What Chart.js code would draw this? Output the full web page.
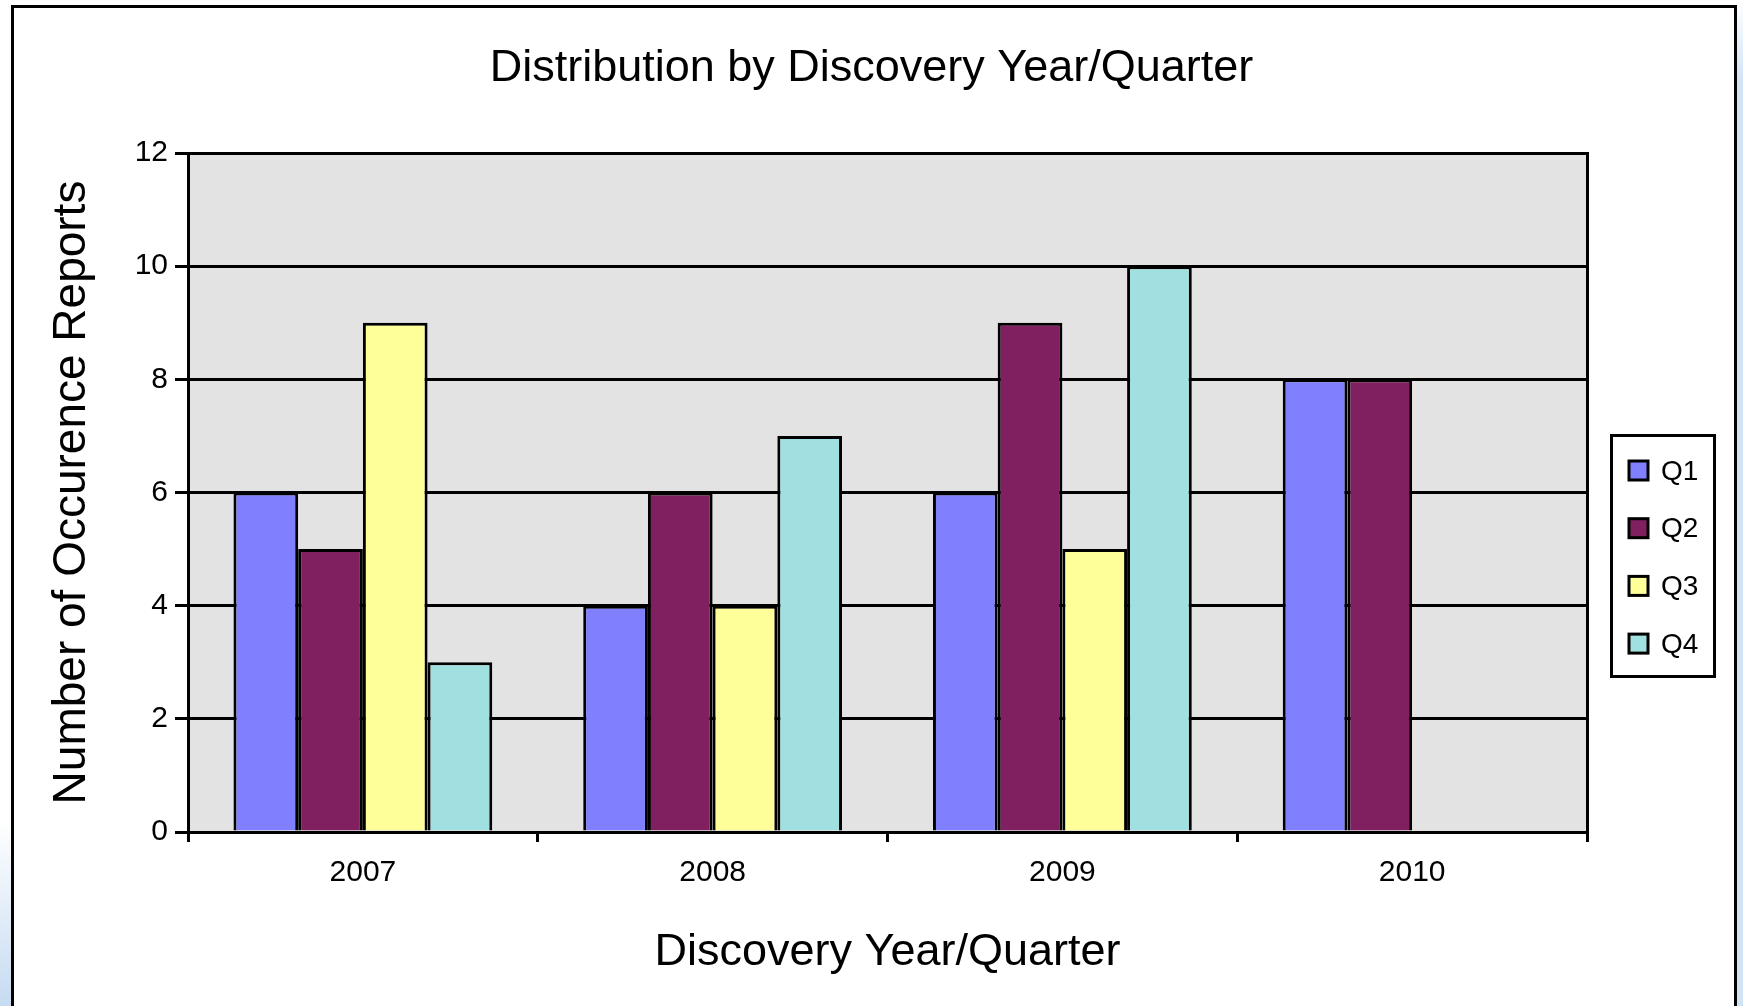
<!DOCTYPE html>
<html><head><meta charset="utf-8">
<script src="https://cdn.jsdelivr.net/npm/chart.js@4.4.1/dist/chart.umd.min.js"></script>
<style>html,body{margin:0;padding:0;background:#fff;overflow:hidden}canvas{display:block}</style>
</head><body>
<canvas id="c" width="1743" height="1006"></canvas>
<script>
const categories = ['2007', '2008', '2009', '2010'];
const q1 = [6, 4, 6, 8];
const q2 = [5, 6, 9, 8];
const q3 = [9, 4, 5, null];
const q4 = [3, 7, 10, null];
const seriesNames = ['Q1', 'Q2', 'Q3', 'Q4'];
const yTicks = [0, 2, 4, 6, 8, 10, 12];
const chartTitle = 'Distribution by Discovery Year/Quarter';
const xTitle = 'Discovery Year/Quarter';
const yTitle = 'Number of Occurence Reports';
const seriesColors = ['#8080FF', '#802060', '#FFFF99', '#A0E0E0'];

const FONT = '"Liberation Sans", Arial, sans-serif';

const framePlugin = {
  id: 'frame',
  beforeDraw(chart) {
    const ctx = chart.ctx, W = chart.width, H = chart.height, a = chart.chartArea;
    ctx.save();
    ctx.fillStyle = '#fff';
    ctx.fillRect(0, 0, W, H);
    let g = ctx.createLinearGradient(0, 0, 0, 80);
    g.addColorStop(0, '#ffffff'); g.addColorStop(1, '#d2e3f6');
    ctx.fillStyle = g; ctx.fillRect(1737, 0, W - 1737, H);
    g = ctx.createLinearGradient(0, 820, 0, H);
    g.addColorStop(0, '#ffffff'); g.addColorStop(1, '#c6dbf1');
    ctx.fillStyle = g; ctx.fillRect(0, 820, 11, H - 820);
    ctx.strokeStyle = '#000'; ctx.lineWidth = 3;
    ctx.beginPath();
    ctx.moveTo(12.5, H + 5); ctx.lineTo(12.5, 6.5); ctx.lineTo(1735.5, 6.5); ctx.lineTo(1735.5, H + 5);
    ctx.stroke();
    ctx.fillStyle = '#E3E3E3';
    ctx.fillRect(a.left, a.top, a.right - a.left, a.bottom - a.top);
    ctx.restore();
  },
  afterDraw(chart) {
    const ctx = chart.ctx;
    const bx = 1611.5, by = 435.5, bw = 103, bh = 241;
    ctx.save();
    ctx.fillStyle = '#fff';
    ctx.fillRect(bx, by, bw, bh);
    ctx.strokeStyle = '#000'; ctx.lineWidth = 3;
    ctx.strokeRect(bx, by, bw, bh);
    ctx.font = '28px ' + FONT;
    ctx.textBaseline = 'middle'; ctx.textAlign = 'left';
    chart.data.datasets.forEach((ds, i) => {
      const cy = 471 + i * 57.7;
      ctx.fillStyle = ds.backgroundColor;
      ctx.fillRect(1629, cy - 10, 19, 19);
      ctx.strokeRect(1629, cy - 10, 19, 19);
      ctx.fillStyle = '#000';
      ctx.fillText(ds.label, 1661, cy + 1);
    });
    ctx.restore();
  }
};

const seriesData = [q1, q2, q3, q4];
new Chart(document.getElementById('c'), {
  type: 'bar',
  data: {
    labels: categories,
    datasets: seriesNames.map((n, i) => ({
      label: n,
      data: seriesData[i],
      backgroundColor: seriesColors[i],
      borderColor: '#000',
      borderWidth: 3,
      borderSkipped: 'start',
      categoryPercentage: 0.74,
      barPercentage: 1.0
    }))
  },
  options: {
    responsive: false,
    animation: false,
    layout: { padding: 0 },
    plugins: {
      legend: { display: false },
      tooltip: { enabled: false },
      title: {
        display: true, text: chartTitle, color: '#000',
        font: { family: FONT, size: 45, weight: 'normal' },
        padding: { top: 42, bottom: 57 }
      }
    },
    scales: {
      x: {
        position: 'bottom', offset: true,
        afterFit: s => { s.height = 174; },
        grid: { display: true, drawOnChartArea: false, drawTicks: true, tickLength: 10, color: '#000', lineWidth: 3, offset: true },
        border: { display: true, color: '#000', width: 3, z: 1 },
        ticks: { color: '#000', font: { family: FONT, size: 30 }, padding: 13, maxRotation: 0 },
        title: { display: true, text: xTitle, color: '#000', font: { family: FONT, size: 45 }, padding: { top: 0, bottom: 26 } }
      },
      y: {
        position: 'left', min: 0, max: 12,
        afterBuildTicks: s => { s.ticks = yTicks.map(v => ({ value: v })); },
        afterFit: s => { s.width = 188; },
        grid: { color: '#000', lineWidth: 3, tickLength: 13, drawTicks: true },
        border: { display: true, color: '#000', width: 3, z: 1 },
        ticks: { color: '#000', font: { family: FONT, size: 30 }, padding: 7 },
        title: { display: true, text: yTitle, color: '#000', font: { family: FONT, size: 46 }, padding: { top: 45, bottom: 0 } }
      },
      y2: {
        position: 'right', min: 0, max: 12,
        afterFit: s => { s.width = 156; },
        grid: { display: false },
        ticks: { display: false },
        border: { display: true, color: '#000', width: 3, z: 1 }
      }
    }
  },
  plugins: [framePlugin]
});
</script>
</body></html>
